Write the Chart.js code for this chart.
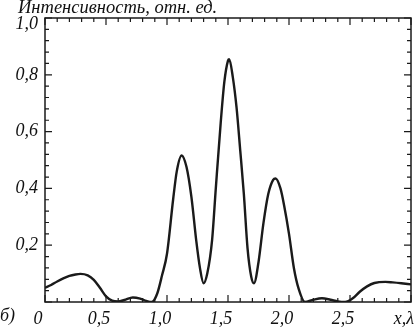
<!DOCTYPE html>
<html lang="ru">
<head>
  <meta charset="UTF-8" />
  <title>Интенсивность</title>
  <script src="https://cdn.jsdelivr.net/npm/chart.js"></script>
  <style>
    html, body { margin: 0; padding: 0; background: #fff; }
    #wrap { position: relative; width: 416px; height: 329px; }
    .lbl {
      position: absolute;
      font-family: 'Liberation Serif', 'DejaVu Serif', serif;
      font-style: italic;
      color: #111;
      white-space: nowrap;
    }
    #ttl { left: 18px; top: -3px; font-size: 18.5px; }
    #part { left: 0px; top: 305px; font-size: 18px; }
  </style>
</head>
<body>
  <div id="wrap">
    <canvas id="c" width="416" height="329"></canvas>
    <div id="ttl" class="lbl">Интенсивность, отн. ед.</div>
    <div id="part" class="lbl">б)</div>
  </div>

  <script>
    // координата x, λ
    const xs = [0.00, 0.05, 0.10, 0.15, 0.20, 0.25, 0.29, 0.35, 0.40, 0.45,
      0.50, 0.55, 0.60, 0.65, 0.72, 0.78, 0.83, 0.875, 0.92, 0.96,
      1.00, 1.05, 1.08, 1.12, 1.16, 1.20, 1.24, 1.27, 1.30, 1.33,
      1.37, 1.40, 1.44, 1.47, 1.50, 1.51, 1.54, 1.57, 1.60, 1.63,
      1.66, 1.69, 1.713, 1.75, 1.79, 1.83, 1.87, 1.89, 1.93, 1.96,
      2.00, 2.04, 2.08, 2.13, 2.20, 2.27, 2.34, 2.40, 2.46, 2.52,
      2.58, 2.64, 2.70, 2.79, 2.85, 2.92, 3.00];
    // интенсивность, отн. ед.
    const intensity = [0.050, 0.060, 0.072, 0.083, 0.092, 0.097, 0.099, 0.094, 0.078, 0.050,
      0.020, 0.005, 0.002, 0.007, 0.016, 0.012, 0.004, 0.000, 0.030, 0.095,
      0.170, 0.360, 0.460, 0.516, 0.475, 0.370, 0.215, 0.120, 0.066, 0.100,
      0.220, 0.400, 0.630, 0.775, 0.850, 0.855, 0.790, 0.685, 0.535, 0.380,
      0.190, 0.090, 0.066, 0.140, 0.276, 0.380, 0.430, 0.435, 0.400, 0.340,
      0.240, 0.120, 0.045, 0.000, 0.008, 0.013, 0.008, 0.002, 0.000, 0.012,
      0.036, 0.055, 0.067, 0.071, 0.069, 0.066, 0.062];

    const xTickLabels = ['0', '0,5', '1,0', '1,5', '2,0', '2,5', 'x,λ'];
    const yTickLabels = ['', '0,2', '0,4', '0,6', '0,8', '1,0'];

    const serif = "'Liberation Serif', 'DejaVu Serif', serif";
    const ink = '#1a1a1a';

    // рамка и засечки внутрь
    const frame = {
      id: 'frame',
      afterDraw(chart) {
        const { ctx, chartArea: a, scales: { x, y } } = chart;
        ctx.save();
        ctx.strokeStyle = ink;
        ctx.lineWidth = 1.5;
        ctx.strokeRect(a.left, a.top, a.right - a.left, a.bottom - a.top);
        ctx.lineWidth = 1.2;
        ctx.beginPath();
        for (let i = 0; i <= 30; i++) {
          const px = x.getPixelForValue(i * 0.1);
          const len = i % 5 === 0 ? 7 : 4;
          ctx.moveTo(px, a.bottom); ctx.lineTo(px, a.bottom - len);
          ctx.moveTo(px, a.top); ctx.lineTo(px, a.top + len);
        }
        for (let i = 0; i <= 25; i++) {
          const py = y.getPixelForValue(i * 0.04);
          const len = i % 5 === 0 ? 7 : 4;
          ctx.moveTo(a.left, py); ctx.lineTo(a.left + len, py);
          ctx.moveTo(a.right, py); ctx.lineTo(a.right - len, py);
        }
        ctx.stroke();
        ctx.restore();
      }
    };

    new Chart(document.getElementById('c'), {
      type: 'line',
      data: {
        datasets: [{
          data: xs.map((v, i) => ({ x: v, y: intensity[i] })),
          borderColor: ink,
          borderWidth: 2.4,
          pointRadius: 0,
          cubicInterpolationMode: 'monotone',
          fill: false
        }]
      },
      options: {
        responsive: false,
        animation: false,
        layout: { padding: { top: 18, right: 5, left: 0, bottom: 0 } },
        plugins: { legend: { display: false }, tooltip: { enabled: false } },
        scales: {
          x: {
            type: 'linear',
            min: 0, max: 3,
            grid: { display: false, drawTicks: false },
            border: { display: false },
            afterFit: s => { s.height = 27; s.paddingLeft = 0; s.paddingRight = 0; },
            ticks: {
              stepSize: 0.5,
              padding: 6,
              labelOffset: -7,
              maxRotation: 0,
              autoSkip: false,
              color: '#111',
              font: { family: serif, size: 18, style: 'italic' },
              callback: v => xTickLabels[Math.round(v * 2)]
            }
          },
          y: {
            min: 0, max: 1,
            grid: { display: false, drawTicks: false },
            border: { display: false },
            afterFit: s => { s.width = 45; s.paddingTop = 0; s.paddingBottom = 0; },
            ticks: {
              stepSize: 0.2,
              padding: 7,
              color: '#111',
              font: ctx => ({
                family: serif, size: 18, style: 'italic',
                lineHeight: ctx.tick && ctx.tick.value === 1 ? 0.75 : 1.2
              }),
              callback: v => {
                const i = Math.round(v * 5);
                return i === 5 ? ['', yTickLabels[i]] : yTickLabels[i];
              }
            }
          }
        }
      },
      plugins: [frame]
    });
  </script>
</body>
</html>
